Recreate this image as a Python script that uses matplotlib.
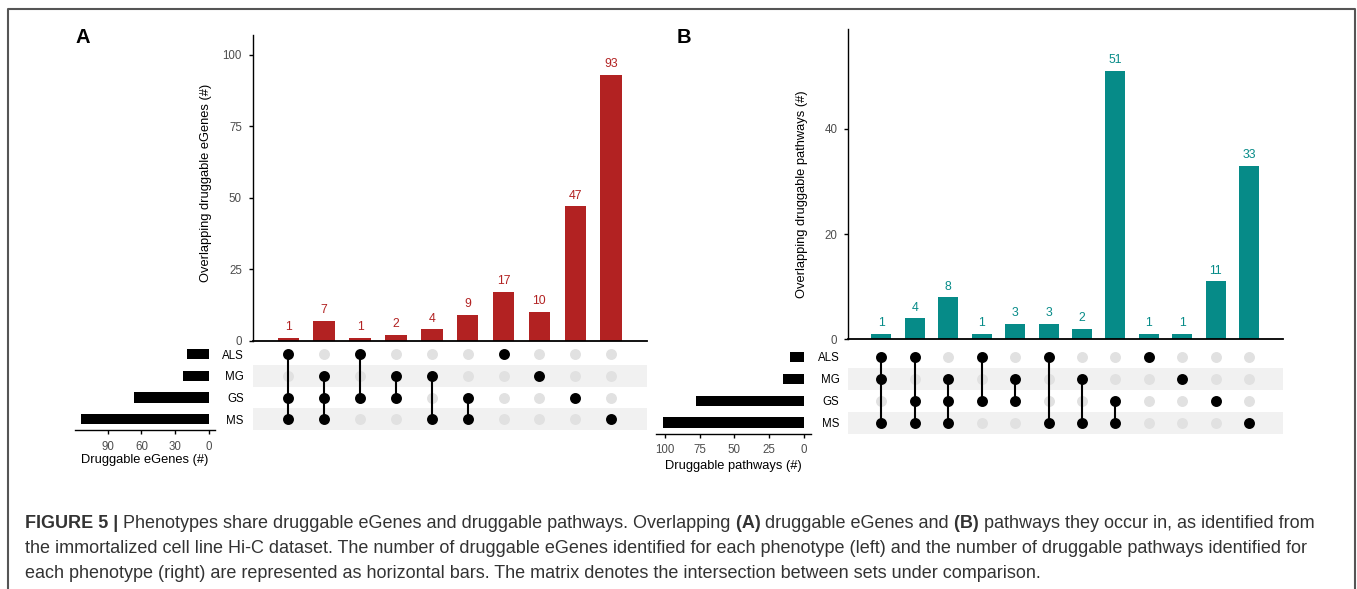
import matplotlib
matplotlib.use("Agg")
import matplotlib.pyplot as plt
from matplotlib.lines import Line2D
import numpy as np

plt.rcParams['font.family'] = ['Liberation Sans', 'DejaVu Sans']

W, H, DPI = 1357, 589, 100

# ---------------- data ----------------
set_names = ["ALS", "MG", "GS", "MS"]

# Panel A: druggable eGenes
a_counts = [1, 7, 1, 2, 4, 9, 17, 10, 47, 93]
a_members = [["ALS", "GS", "MS"], ["MG", "GS", "MS"], ["ALS", "GS"], ["MG", "GS"],
             ["MG", "MS"], ["GS", "MS"], ["ALS"], ["MG"], ["GS"], ["MS"]]
a_set_sizes = [19, 23, 67, 114]
a_count_ticks = [0, 25, 50, 75, 100]
a_size_ticks = [0, 30, 60, 90]

# Panel B: druggable pathways
b_counts = [1, 4, 8, 1, 3, 3, 2, 51, 1, 1, 11, 33]
b_members = [["ALS", "MG", "MS"], ["ALS", "GS", "MS"], ["MG", "GS", "MS"], ["ALS", "GS"],
             ["MG", "GS"], ["ALS", "MS"], ["MG", "MS"], ["GS", "MS"],
             ["ALS"], ["MG"], ["GS"], ["MS"]]
b_set_sizes = [10, 15, 78, 102]
b_count_ticks = [0, 20, 40]
b_size_ticks = [0, 25, 50, 75, 100]

RED = "#B22222"
TEAL = "#068B88"
TICK_GRAY = "#4D4D4D"

fig = plt.figure(figsize=(W / DPI, H / DPI), dpi=DPI)


def px_axes(x0, y0, x1, y1):
    return fig.add_axes([x0 / W, 1 - y1 / H, (x1 - x0) / W, (y1 - y0) / H])


def panel(counts, members, sizes, color, count_ticks, size_ticks,
          bar_box, mat_box, size_box, ytop, ylabel, ylabel_xy, xlabel, xlabel_y):
    n = len(counts)
    xs = np.arange(n)
    # intersection bars
    ax = px_axes(*bar_box)
    ax.bar(xs, counts, width=0.6, color=color, linewidth=0)
    for x, c in zip(xs, counts):
        ax.annotate(str(c), (x, c), xytext=(0, 5.5), textcoords='offset points',
                    ha='center', va='baseline', color=color, fontsize=8.8)
    ax.set_xlim(-1, n)
    ax.set_ylim(0, ytop)
    ax.set_yticks(count_ticks)
    ax.set_xticks([])
    for s in ['top', 'right']:
        ax.spines[s].set_visible(False)
    ax.spines['left'].set_linewidth(1.0)
    ax.spines['bottom'].set_linewidth(1.3)
    ax.tick_params(axis='y', length=3.1, width=1.0, pad=4.5, labelsize=8.3,
                   labelcolor=TICK_GRAY)
    fig.text(ylabel_xy[0] / W, 1 - ylabel_xy[1] / H, ylabel, rotation=90,
             ha='center', va='center', fontsize=9.3)

    # matrix
    axm = px_axes(*mat_box)
    axm.set_xlim(-1, n)
    axm.set_ylim(3.5, -0.5)
    for r in (1, 3):
        axm.axhspan(r - 0.5, r + 0.5, color='#F1F1F1', lw=0, zorder=0)
    for i, mem in enumerate(members):
        rows = [set_names.index(m) for m in mem]
        axm.scatter([i] * 4, range(4), s=62, color='#E1E1E1', lw=0, zorder=1)
        if len(rows) > 1:
            axm.plot([i, i], [min(rows), max(rows)], color='black', lw=1.5,
                     zorder=2, solid_capstyle='butt')
        axm.scatter([i] * len(rows), rows, s=62, color='black', lw=0, zorder=3)
    axm.set_yticks(range(4))
    axm.set_yticklabels(set_names)
    axm.tick_params(axis='y', length=0, pad=6.3, labelsize=8.3, labelcolor='black')
    axm.set_xticks([])
    for s in axm.spines.values():
        s.set_visible(False)

    # set size bars
    axs = px_axes(*size_box)
    axs.barh(range(4), sizes, height=0.47, color='black', lw=0)
    axs.set_ylim(3.5, -0.5)
    mx = max(sizes)
    axs.set_xlim(mx * 1.05, -mx * 0.05)
    axs.set_xticks(size_ticks)
    axs.set_yticks([])
    for s in ['top', 'right', 'left']:
        axs.spines[s].set_visible(False)
    axs.spines['bottom'].set_linewidth(1.0)
    axs.tick_params(axis='x', length=3.1, width=1.0, pad=4.5, labelsize=8.3,
                    labelcolor=TICK_GRAY)
    cx = (size_box[0] + size_box[2]) / 2
    fig.text(cx / W, 1 - xlabel_y / H, xlabel, ha='center', va='center', fontsize=9.3)


panel(a_counts, a_members, a_set_sizes, RED, a_count_ticks, a_size_ticks,
      bar_box=(252.5, 35, 647, 340.7), mat_box=(252.5, 343.5, 647, 430),
      size_box=(74.5, 343.5, 215, 430), ytop=107,
      ylabel="Overlapping druggable eGenes (#)", ylabel_xy=(206, 183),
      xlabel="Druggable eGenes (#)", xlabel_y=460)

panel(b_counts, b_members, b_set_sizes, TEAL, b_count_ticks, b_size_ticks,
      bar_box=(848, 29.3, 1282.5, 339.3), mat_box=(848, 346, 1282.5, 433.5),
      size_box=(655.5, 346, 810.6, 433.5), ytop=58.9,
      ylabel="Overlapping druggable pathways (#)", ylabel_xy=(802, 194),
      xlabel="Druggable pathways (#)", xlabel_y=466)

fig.text(83 / W, 1 - 37.5 / H, "A", fontsize=14.5, fontweight='bold', ha='center', va='center')
fig.text(683.5 / W, 1 - 37.5 / H, "B", fontsize=14.5, fontweight='bold', ha='center', va='center')

# frame
frame = Line2D([8 / W, 8 / W, 1355 / W, 1355 / W], [0, 1 - 9 / H, 1 - 9 / H, 0],
               transform=fig.transFigure, color='#555555', lw=1.5)
fig.add_artist(frame)

# caption
cap_lines = [
    [("FIGURE 5 |", True),
     (" Phenotypes share druggable eGenes and druggable pathways. Overlapping", False),
     (" (A)", True), (" druggable eGenes and", False), (" (B)", True),
     (" pathways they occur in, as identified from", False)],
    [("the immortalized cell line Hi-C dataset. The number of druggable eGenes identified "
      "for each phenotype (left) and the number of druggable pathways identified for", False)],
    [("each phenotype (right) are represented as horizontal bars. The matrix denotes the "
      "intersection between sets under comparison.", False)],
]
CAP_COLOR = "#333333"
renderer = fig.canvas.get_renderer()


def draw_line(pieces, x_px, y_px, fs, keep=True):
    x = x_px
    made = []
    for txt, bold in pieces:
        t = fig.text(x / W, 1 - y_px / H, txt, fontsize=fs,
                     fontweight='bold' if bold else 'normal',
                     ha='left', va='baseline', color=CAP_COLOR)
        bb = t.get_window_extent(renderer)
        x += bb.width
        made.append(t)
    if not keep:
        for t in made:
            t.remove()
    return x - x_px


w0 = draw_line(cap_lines[1], 25, 553, 13, keep=False)
fs = 13 * (1307 - 25) / w0
for pieces, yb in zip(cap_lines, [528, 553, 578]):
    draw_line(pieces, 25, yb, fs)

fig.savefig("out.png", dpi=DPI)
